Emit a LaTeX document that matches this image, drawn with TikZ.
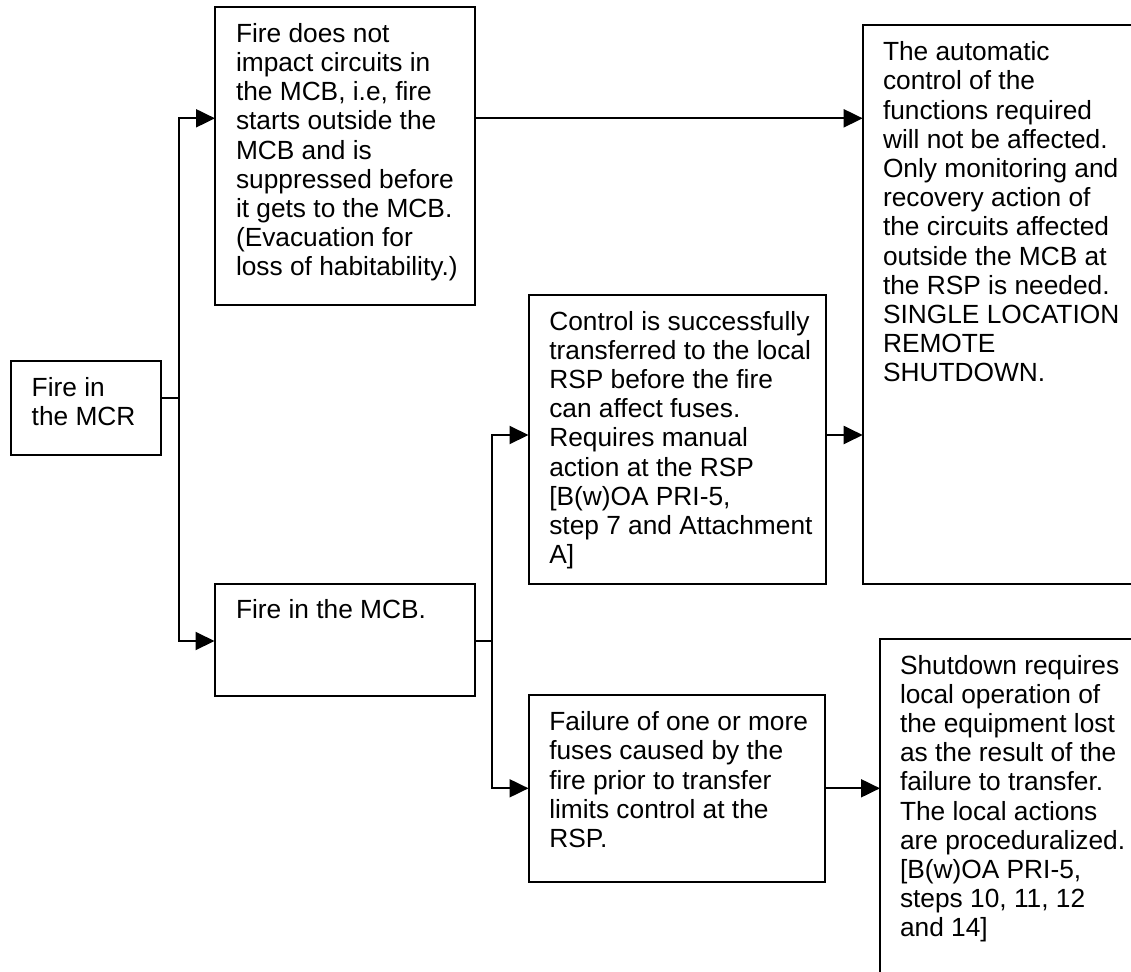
\documentclass[tikz,border=0pt]{standalone}
\usepackage{fontspec}
\setmainfont{Liberation Sans}
\usetikzlibrary{arrows.meta}
\newcommand\diagfont{\fontsize{26.3pt}{29.2pt}\selectfont}
\newcommand\boxtext[1]{\parbox[t]{420pt}{\diagfont\raggedright #1}}
\begin{document}
\begin{tikzpicture}[x=1pt,y=-1pt,line width=2pt,
  box/.style={draw,rectangle,anchor=north west,inner sep=0pt,outer sep=0pt},
  txt/.style={anchor=base west,inner sep=0pt,outer sep=0pt},
  arr/.style={-{Triangle[length=19pt,width=18pt]}}]
\useasboundingbox (0,0) rectangle (1131,971);
\clip (0,0) rectangle (1131,971);
% boxes
\node[box,minimum width=150pt,minimum height=94pt] (mcr) at (11,361) {};
\node[box,minimum width=260pt,minimum height=298pt] (top) at (215,7) {};
\node[box,minimum width=260pt,minimum height=112pt] (mcb) at (214.5,584) {};
\node[box,minimum width=297pt,minimum height=289pt] (ctrl) at (528.5,294.5) {};
\node[box,minimum width=296.5pt,minimum height=187pt] (fail) at (528.5,695) {};
\node[box,minimum width=320pt,minimum height=558.5pt] (auto) at (862.7,25) {};
\node[box,minimum width=320pt,minimum height=400pt] (shut) at (880,638.5) {};
% texts
\node[txt] (mcrT) at (31.7,396) {\boxtext{Fire in\\the MCR}};
\node[txt] (topT) at (236,42.4) {\boxtext{Fire does not\\impact circuits in\\the MCB, i.e, fire\\starts outside the\\MCB and is\\suppressed before\\it gets to the MCB.\\(Evacuation for\\loss of habitability.)}};
\node[txt] (mcbT) at (236,618.3) {\boxtext{Fire in the MCB.}};
\node[txt] (ctrlT) at (549.3,330) {\boxtext{Control is successfully\\transferred to the local\\RSP before the fire\\can affect fuses.\\Requires manual\\action at the RSP\\{}[B(w)OA PRI-5,\\step 7 and Attachment\\A]}};
\node[txt] (failT) at (549.3,730.7) {\boxtext{Failure of one or more\\fuses caused by the\\fire prior to transfer\\limits control at the\\RSP.}};
\node[txt] (autoT) at (883,60.7) {\boxtext{The automatic\\control of the\\functions required\\will not be affected.\\Only monitoring and\\recovery action of\\the circuits affected\\outside the MCB at\\the RSP is needed.\\SINGLE LOCATION\\REMOTE\\SHUTDOWN.}};
\node[txt] (shutT) at (900,674) {\boxtext{Shutdown requires\\local operation of\\the equipment lost\\as the result of the\\failure to transfer.\\The local actions\\are proceduralized.\\{}[B(w)OA PRI-5,\\steps 10, 11, 12\\and 14]}};
% junctions
\coordinate (sp) at (178.7,397.7);
\coordinate (sTop) at (178.7,118.3);
\coordinate (sMcb) at (178.7,641);
\coordinate (s2) at (491.5,641);
\coordinate (s2a) at (491.5,435);
\coordinate (s2b) at (491.5,788.3);
% connectors
\draw (mcr.east |- sp) -- (sp);
\draw[arr] (sp) -- (sTop) -- (sTop -| top.west);
\draw[arr] (sp) -- (sMcb) -- (sMcb -| mcb.west);
\draw[arr] (sTop -| top.east) -- (sTop -| auto.west);
\draw (mcb.east |- s2) -- (s2);
\draw[arr] (s2) -- (s2a) -- (s2a -| ctrl.west);
\draw[arr] (s2) -- (s2b) -- (s2b -| fail.west);
\draw[arr] (s2a -| ctrl.east) -- (s2a -| auto.west);
\draw[arr] (s2b -| fail.east) -- (s2b -| shut.west);
\end{tikzpicture}
\end{document}
